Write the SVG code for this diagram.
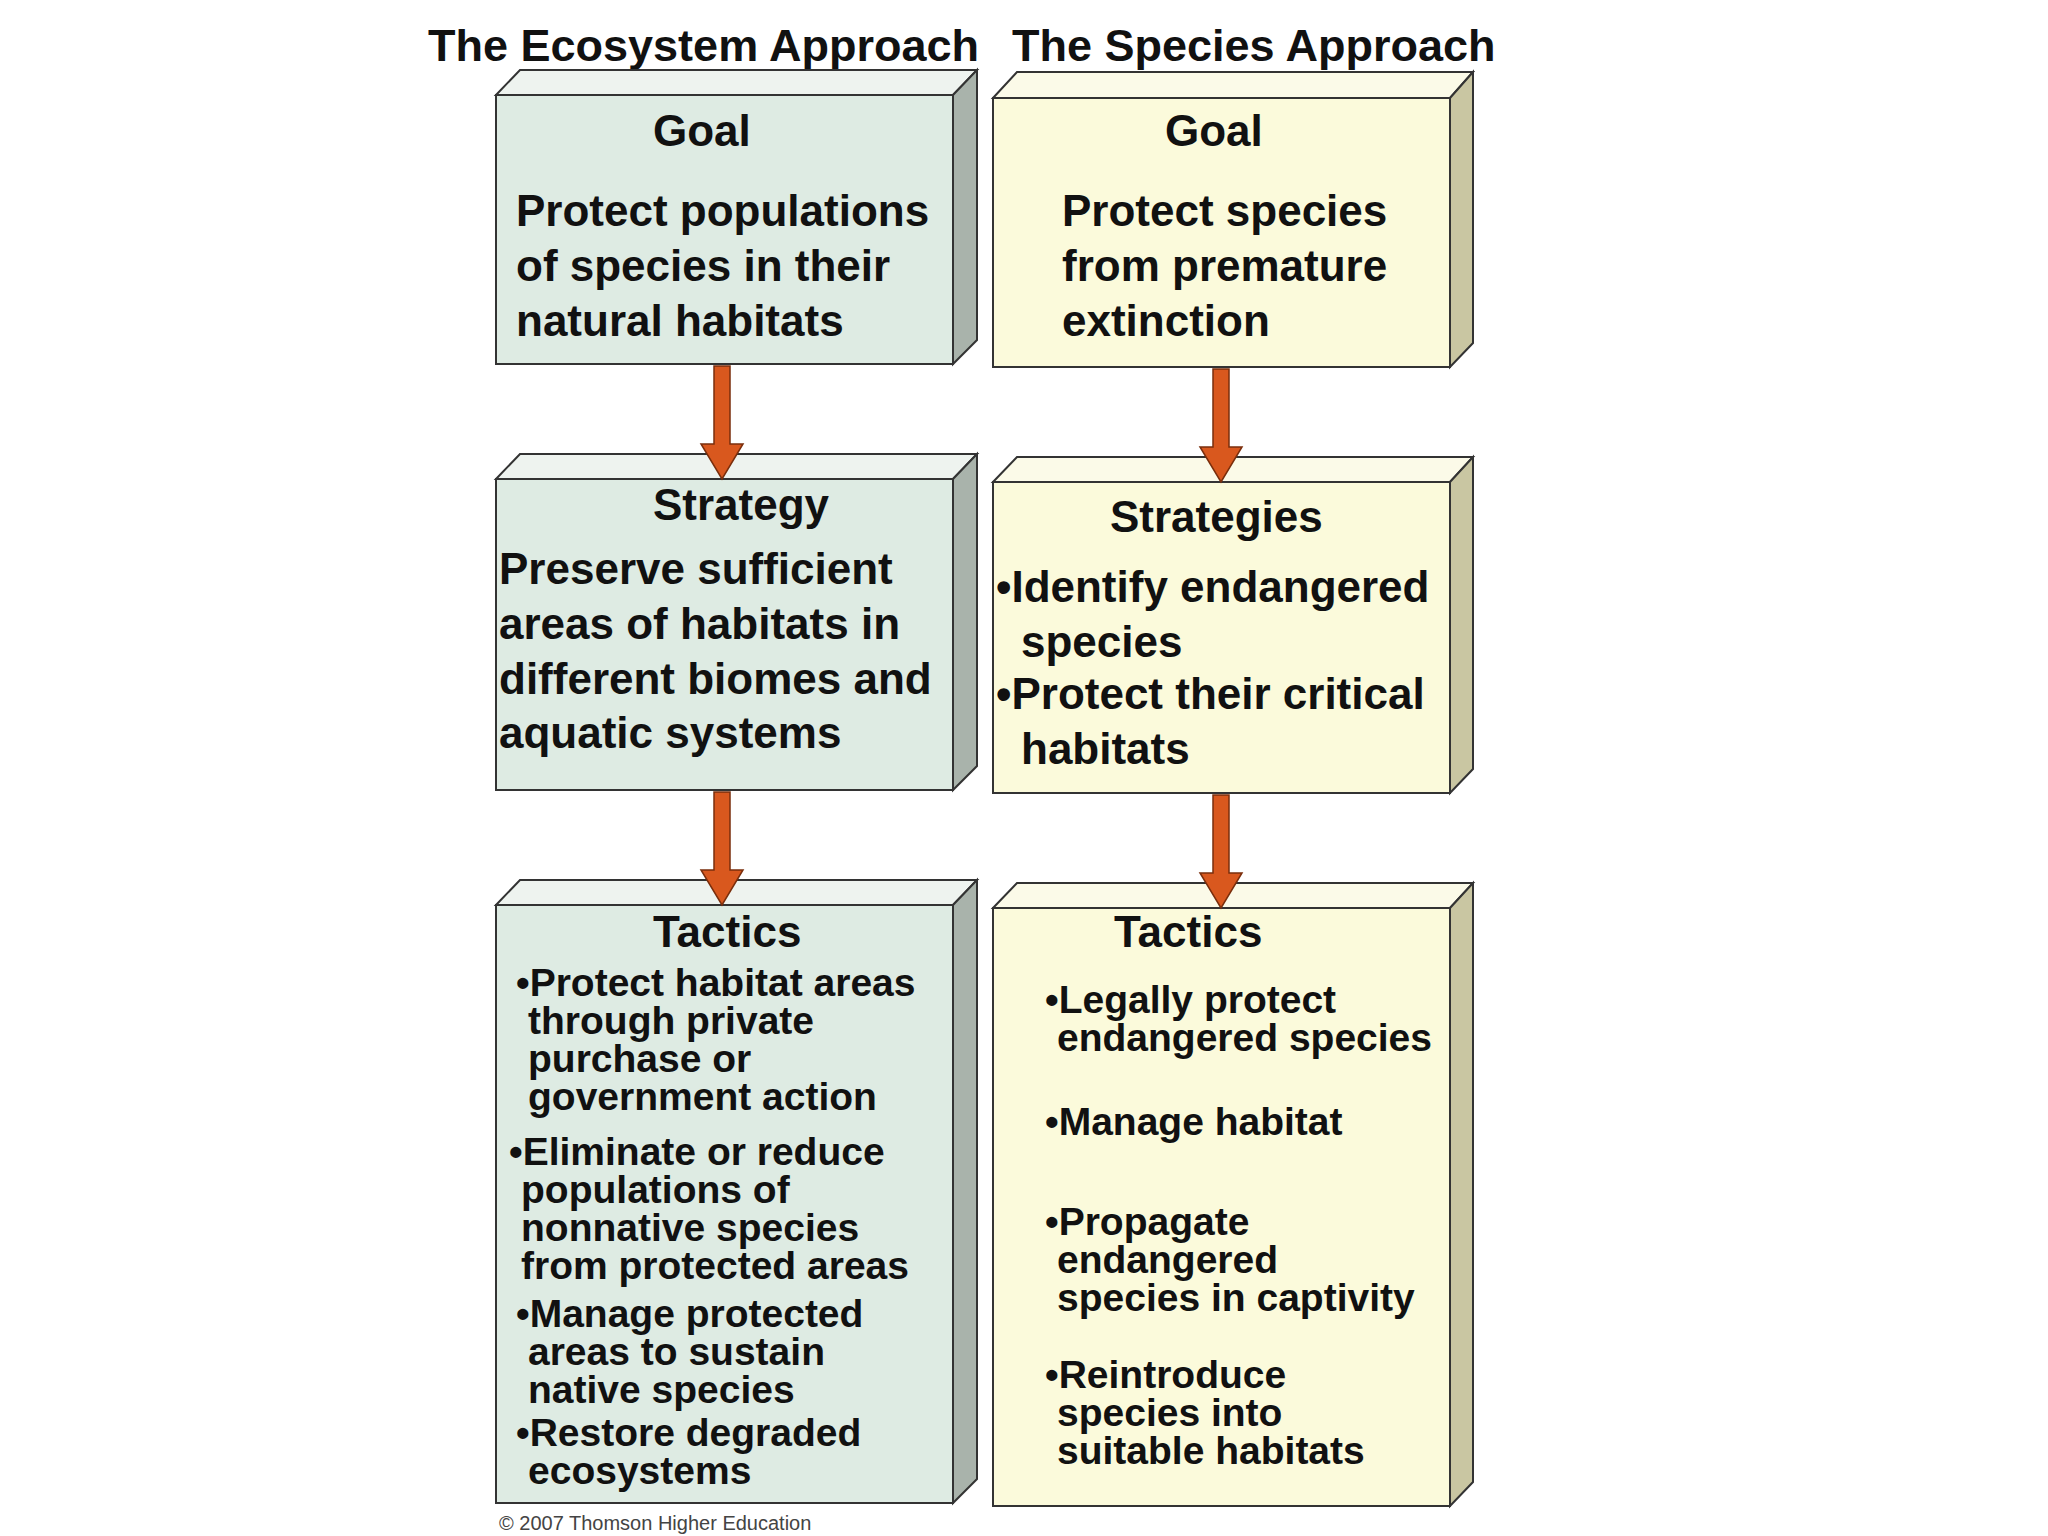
<svg xmlns="http://www.w3.org/2000/svg" width="2048" height="1536" viewBox="0 0 2048 1536">
<style>
text{font-family:"Liberation Sans",Arial,sans-serif;font-weight:bold;fill:#111}
.t{font-size:45px}
.h{font-size:44px}
.b{font-size:44px}
.s{font-size:39px}
.e polygon,.e rect,.p polygon,.p rect{stroke:#333;stroke-width:2}
.e .f{fill:#deebe3}.e .sd{fill:#a9b3ab}.e .tp{fill:#eef3ef}
.p .f{fill:#fbfadb}.p .sd{fill:#c9c6a2}.p .tp{fill:#fbfae8}
.arr{fill:#d9581e;stroke:#7a2e0c;stroke-width:1.5}
</style>
<rect width="2048" height="1536" fill="#fff"/>
<text class="t" x="428" y="61">The Ecosystem Approach</text>
<text class="t" x="1012" y="61">The Species Approach</text>

<g id="eco-goal" class="e">
<polygon class="tp" points="496,95 520,70 977,70 953,95"/>
<polygon class="sd" points="953,95 977,70 977,340 953,364"/>
<rect class="f" x="496" y="95" width="457" height="269"/>
<text class="h" x="653" y="146">Goal</text>
<text class="b" x="516" y="226">Protect populations</text>
<text class="b" x="516" y="281">of species in their</text>
<text class="b" x="516" y="336">natural habitats</text>
</g>
<g id="spe-goal" class="p">
<polygon class="tp" points="993,98 1017,72 1473,72 1450,98"/>
<polygon class="sd" points="1450,98 1473,72 1473,343 1450,367"/>
<rect class="f" x="993" y="98" width="457" height="269"/>
<text class="h" x="1165" y="146">Goal</text>
<text class="b" x="1062" y="226">Protect species</text>
<text class="b" x="1062" y="281">from premature</text>
<text class="b" x="1062" y="336">extinction</text>
</g>

<g id="eco-strategy" class="e">
<polygon class="tp" points="496,479 520,454 977,454 953,479"/>
<polygon class="sd" points="953,479 977,454 977,766 953,790"/>
<rect class="f" x="496" y="479" width="457" height="311"/>
<text class="h" x="653" y="520">Strategy</text>
<text class="b" x="499" y="584">Preserve sufficient</text>
<text class="b" x="499" y="639">areas of habitats in</text>
<text class="b" x="499" y="694">different biomes and</text>
<text class="b" x="499" y="748">aquatic systems</text>
</g>
<g id="spe-strategies" class="p">
<polygon class="tp" points="993,482 1017,457 1473,457 1450,482"/>
<polygon class="sd" points="1450,482 1473,457 1473,769 1450,793"/>
<rect class="f" x="993" y="482" width="457" height="311"/>
<text class="h" x="1110" y="532">Strategies</text>
<text class="b" x="996" y="602">•Identify endangered</text>
<text class="b" x="1021" y="657">species</text>
<text class="b" x="996" y="709">•Protect their critical</text>
<text class="b" x="1021" y="764">habitats</text>
</g>

<g id="eco-tactics" class="e">
<polygon class="tp" points="496,905 520,880 977,880 953,905"/>
<polygon class="sd" points="953,905 977,880 977,1479 953,1503"/>
<rect class="f" x="496" y="905" width="457" height="598"/>
<text class="h" x="653" y="947">Tactics</text>
<text class="s" x="516" y="996">•Protect habitat areas</text>
<text class="s" x="528" y="1034">through private</text>
<text class="s" x="528" y="1072">purchase or</text>
<text class="s" x="528" y="1110">government action</text>
<text class="s" x="509" y="1165">•Eliminate or reduce</text>
<text class="s" x="521" y="1203">populations of</text>
<text class="s" x="521" y="1241">nonnative species</text>
<text class="s" x="521" y="1279">from protected areas</text>
<text class="s" x="516" y="1327">•Manage protected</text>
<text class="s" x="528" y="1365">areas to sustain</text>
<text class="s" x="528" y="1403">native species</text>
<text class="s" x="516" y="1446">•Restore degraded</text>
<text class="s" x="528" y="1484">ecosystems</text>
</g>
<g id="spe-tactics" class="p">
<polygon class="tp" points="993,908 1017,883 1473,883 1450,908"/>
<polygon class="sd" points="1450,908 1473,883 1473,1482 1450,1506"/>
<rect class="f" x="993" y="908" width="457" height="598"/>
<text class="h" x="1114" y="947">Tactics</text>
<text class="s" x="1045" y="1013">•Legally protect</text>
<text class="s" x="1057" y="1051">endangered species</text>
<text class="s" x="1045" y="1135">•Manage habitat</text>
<text class="s" x="1045" y="1235">•Propagate</text>
<text class="s" x="1057" y="1273">endangered</text>
<text class="s" x="1057" y="1311">species in captivity</text>
<text class="s" x="1045" y="1388">•Reintroduce</text>
<text class="s" x="1057" y="1426">species into</text>
<text class="s" x="1057" y="1464">suitable habitats</text>
</g>

<g id="connectors">
<polygon class="arr" points="714,366 730,366 730,444 743,444 722,479 701,444 714,444"/>
<polygon class="arr" points="1213,369 1229,369 1229,447 1242,447 1221,482 1200,447 1213,447"/>
<polygon class="arr" points="714,792 730,792 730,870 743,870 722,905 701,870 714,870"/>
<polygon class="arr" points="1213,795 1229,795 1229,873 1242,873 1221,908 1200,873 1213,873"/>
</g>
<text x="499" y="1530" style="font-size:20px;font-weight:normal;fill:#444">© 2007 Thomson Higher Education</text>
</svg>
